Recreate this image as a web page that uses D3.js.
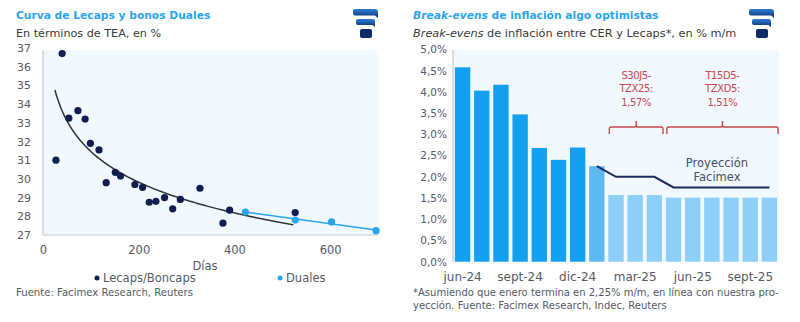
<!DOCTYPE html>
<html>
<head>
<meta charset="utf-8">
<script src="https://cdn.jsdelivr.net/npm/d3@7/dist/d3.min.js"></script>
<style>
  html, body { margin: 0; padding: 0; background: #fff; }
  svg { display: block; font-family: "DejaVu Sans", sans-serif; }
</style>
</head>
<body>
<svg id="chart" width="800" height="322"></svg>
<script>
// ---- Curva de Lecaps y bonos Duales (días, TEA %) ----
const lecapsDays = [27, 40, 54, 73, 88, 99, 117, 132, 151, 162, 192, 208, 222, 236, 254, 271, 287, 328, 376, 390, 527];
const lecapsTea  = [31.0, 36.7, 33.25, 33.65, 33.2, 31.9, 31.55, 29.8, 30.35, 30.15, 29.7, 29.55, 28.75, 28.8, 29.0, 28.4, 28.9, 29.5, 27.63, 28.33, 28.2];
const dualesDays = [423, 527, 603, 696];
const dualesTea  = [28.23, 27.8, 27.7, 27.23];
const leftYTicks = [27, 28, 29, 30, 31, 32, 33, 34, 35, 36, 37];
const leftXTicks = [0, 200, 400, 600];
// Logarithmic trend drawn over the Lecaps/Boncaps curve
const trendStart = 25, trendEnd = 523;
const trendA = 42.38, trendB = 2.37;

// ---- Break-evens de inflación (% m/m) ----
const months = ["jun-24","jul-24","ago-24","sept-24","oct-24","nov-24","dic-24","ene-25","feb-25","mar-25","abr-25","may-25","jun-25","jul-25","ago-25","sept-25","oct-25"];
const breakevens = [4.58, 4.03, 4.17, 3.47, 2.68, 2.40, 2.69, 2.25, 1.57, 1.57, 1.57, 1.51, 1.51, 1.51, 1.51, 1.51, 1.51];
const barKind = ["obs","obs","obs","obs","obs","obs","obs","est","be","be","be","be","be","be","be","be","be"];
const projMonths = ["ene-25","feb-25","mar-25","abr-25","may-25","jun-25","jul-25","ago-25","sept-25","oct-25"];
const projValues = [2.25, 2.0, 2.0, 2.0, 1.75, 1.75, 1.75, 1.75, 1.75, 1.75];
const rightXTicks = ["jun-24","sept-24","dic-24","mar-25","jun-25","sept-25"];
const rightYTicks = [0, 0.5, 1, 1.5, 2, 2.5, 3, 3.5, 4, 4.5, 5];
const brackets = [
  { from: "feb-25", to: "abr-25", lines: ["S30J5-", "TZX25:", "1,57%"] },
  { from: "may-25", to: "oct-25", lines: ["T15D5-", "TZXD5:", "1,51%"] }
];

const svg = d3.select("#chart");
const navy = "#0f1d4f";
const lightBlue = "#2aa6ee";
const gray = "#555a66";
const panelBg = "#f1f8fe";
const fmtPct = v => d3.format(".1f")(v).replace(".", ",") + "%";

// Company mark: three stacked rounded tabs
function logo(x, y) {
  const g = svg.append("g").attr("transform", `translate(${x},${y})`);
  const grad = svg.append("defs").append("linearGradient")
    .attr("id", "lg" + x).attr("x1", 0).attr("y1", 0).attr("x2", 0).attr("y2", 1);
  grad.append("stop").attr("offset", 0).attr("stop-color", "#2f7fd6");
  grad.append("stop").attr("offset", 1).attr("stop-color", "#0d2d6e");
  const f = `url(#lg${x})`;
  g.append("path").attr("fill", f)
    .attr("d", "M2,1 H22 Q25,1 25,4 V10 L22,7.5 H2 Q0,7.5 0,5.5 V3 Q0,1 2,1 Z");
  g.append("path").attr("fill", f)
    .attr("d", "M5,11 H20 Q22,11 22,13 V19 L19.5,17 H5 Q3,17 3,15 V13 Q3,11 5,11 Z");
  g.append("path").attr("fill", "#0d2a66")
    .attr("d", "M9,21 H17 Q19,21 19,23 V28 Q19,30 17,30 H9 Q7,30 7,28 V23 Q7,21 9,21 Z");
}

// ================= Left panel =================
{
  const x = d3.scaleLinear().domain([0, 700]).range([43, 378]);
  const y = d3.scaleLinear().domain([27, 37]).range([235, 48]);

  svg.append("text").attr("x", 16).attr("y", 19)
    .attr("font-size", 10.7).attr("font-weight", 700).attr("fill", lightBlue)
    .text("Curva de Lecaps y bonos Duales");
  svg.append("text").attr("x", 16).attr("y", 37)
    .attr("font-size", 11.2).attr("fill", "#3a3a3a")
    .text("En términos de TEA, en %");
  logo(353, 8);

  svg.append("rect").attr("x", 43).attr("y", 50).attr("width", 335).attr("height", 185).attr("fill", panelBg);

  const yAxis = svg.append("g").attr("transform", "translate(43,0)")
    .call(d3.axisLeft(y).tickValues(leftYTicks).tickSize(0).tickPadding(12));
  yAxis.select(".domain").attr("stroke", "#b9bec7").attr("d", "M0,50V235");
  yAxis.selectAll("text").attr("font-size", 11).attr("fill", gray).attr("font-family", "DejaVu Sans, sans-serif");

  const xAxis = svg.append("g").attr("transform", "translate(0,235)")
    .call(d3.axisBottom(x).tickValues(leftXTicks).tickSize(0).tickPadding(11));
  xAxis.select(".domain").attr("stroke", "#c6ccd4").attr("d", "M43,0H378");
  xAxis.selectAll("text").attr("font-size", 11.5).attr("fill", gray).attr("font-family", "DejaVu Sans, sans-serif");

  svg.append("text").attr("x", 205).attr("y", 270).attr("text-anchor", "middle")
    .attr("font-size", 11.5).attr("fill", gray).text("Días");

  // trend curves
  const trendDays = d3.range(trendStart, trendEnd + 1, 2);
  svg.append("path")
    .datum(trendDays)
    .attr("fill", "none").attr("stroke", "#333").attr("stroke-width", 1.5)
    .attr("d", d3.line().x(d => x(d)).y(d => y(trendA - trendB * Math.log(d))));

  const reg = (xs, ys) => {
    const mx = d3.mean(xs), my = d3.mean(ys);
    const b = d3.sum(xs, (v, i) => (v - mx) * (ys[i] - my)) / d3.sum(xs, v => (v - mx) ** 2);
    return [b, my - b * mx];
  };
  const [db, da] = reg(dualesDays, dualesTea);
  svg.append("line")
    .attr("x1", x(dualesDays[0])).attr("y1", y(da + db * dualesDays[0]))
    .attr("x2", x(dualesDays[dualesDays.length - 1])).attr("y2", y(da + db * dualesDays[dualesDays.length - 1]))
    .attr("stroke", lightBlue).attr("stroke-width", 1.5);

  svg.append("g").selectAll("circle").data(lecapsDays).join("circle")
    .attr("cx", d => x(d)).attr("cy", (d, i) => y(lecapsTea[i])).attr("r", 3.6).attr("fill", navy);
  svg.append("g").selectAll("circle").data(dualesDays).join("circle")
    .attr("cx", d => x(d)).attr("cy", (d, i) => y(dualesTea[i])).attr("r", 3.6).attr("fill", lightBlue);

  // legend
  svg.append("circle").attr("cx", 97).attr("cy", 278).attr("r", 2.5).attr("fill", navy);
  svg.append("text").attr("x", 103).attr("y", 282).attr("font-size", 11.5).attr("fill", gray).text("Lecaps/Boncaps");
  svg.append("circle").attr("cx", 280).attr("cy", 278).attr("r", 2.5).attr("fill", lightBlue);
  svg.append("text").attr("x", 286).attr("y", 282).attr("font-size", 11.5).attr("fill", gray).text("Duales");

  svg.append("text").attr("x", 16).attr("y", 296).attr("font-size", 10.1).attr("fill", gray)
    .text("Fuente: Facimex Research, Reuters");
}

// ================= Right panel =================
{
  const x = d3.scaleBand().domain(months).range([453, 779]).paddingInner(0.2).paddingOuter(0.1);
  const y = d3.scaleLinear().domain([0, 5]).range([261.7, 49.5]);

  const t = svg.append("text").attr("x", 413).attr("y", 19)
    .attr("font-size", 10.7).attr("font-weight", 700).attr("fill", lightBlue);
  t.append("tspan").attr("font-style", "italic").text("Break-evens");
  t.append("tspan").text(" de inflación algo optimistas");
  const s = svg.append("text").attr("x", 413).attr("y", 37)
    .attr("font-size", 11.3).attr("fill", "#3a3a3a");
  s.append("tspan").attr("font-style", "italic").text("Break-evens");
  s.append("tspan").text(" de inflación entre CER y Lecaps*, en % m/m");
  logo(749, 8);

  svg.append("rect").attr("x", 453).attr("y", 50).attr("width", 326).attr("height", 212).attr("fill", panelBg);

  const color = { obs: "#13a0f1", est: "#5cb9f2", be: "#8dcff8" };
  svg.append("g").selectAll("rect").data(months).join("rect")
    .attr("x", d => x(d)).attr("width", x.bandwidth())
    .attr("y", (d, i) => y(breakevens[i])).attr("height", (d, i) => y(0) - y(breakevens[i]))
    .attr("fill", (d, i) => color[barKind[i]]);

  const yAxis = svg.append("g").attr("transform", "translate(453,0)")
    .call(d3.axisLeft(y).tickValues(rightYTicks).tickFormat(fmtPct).tickSize(0).tickPadding(6));
  yAxis.select(".domain").attr("stroke", "#b9bec7").attr("d", "M0,50V262");
  yAxis.selectAll("text").attr("font-size", 10.5).attr("fill", gray).attr("font-family", "DejaVu Sans, sans-serif");

  const xAxis = svg.append("g").attr("transform", "translate(0,262)")
    .call(d3.axisBottom(x).tickValues(rightXTicks).tickSize(0).tickPadding(10));
  xAxis.select(".domain").remove();
  xAxis.selectAll("text").attr("font-size", 12).attr("fill", gray).attr("font-family", "DejaVu Sans, sans-serif");

  // projection line
  const cx = m => x(m) + x.bandwidth() / 2;
  svg.append("path").datum(projMonths)
    .attr("fill", "none").attr("stroke", "#1b2a5c").attr("stroke-width", 2)
    .attr("d", d3.line().x(d => cx(d)).y((d, i) => y(projValues[i])));
  svg.append("text").attr("x", 717).attr("y", 167).attr("text-anchor", "middle")
    .attr("font-size", 11.5).attr("fill", "#4a4f5c").text("Proyección");
  svg.append("text").attr("x", 717).attr("y", 181).attr("text-anchor", "middle")
    .attr("font-size", 11.5).attr("fill", "#4a4f5c").text("Facimex");

  // brackets with break-even labels
  const red = "#c9484a";
  brackets.forEach(b => {
    const x0 = x(b.from) + 1, x1 = x(b.to) + x.bandwidth() + 1;
    const mid = (x0 + x1) / 2;
    const top = 127, foot = 134;
    svg.append("path").attr("fill", "none").attr("stroke", red).attr("stroke-width", 1.4)
      .attr("d", `M${x0},${foot} V${top + 2} Q${x0},${top} ${x0 + 2},${top} H${mid - 2} Q${mid},${top} ${mid},${top - 2} V${top - 6}
                  M${mid},${top - 2} Q${mid},${top} ${mid + 2},${top} H${x1 - 2} Q${x1},${top} ${x1},${top + 2} V${foot}`);
    b.lines.forEach((l, i) => {
      svg.append("text").attr("x", mid).attr("y", 79 + i * 13.3).attr("text-anchor", "middle")
        .attr("font-size", 10).attr("fill", red).attr("letter-spacing", -0.4).text(l);
    });
  });

  svg.append("text").attr("x", 413).attr("y", 296).attr("font-size", 10).attr("fill", gray)
    .text("*Asumiendo que enero termina en 2,25% m/m, en línea con nuestra pro-");
  svg.append("text").attr("x", 413).attr("y", 309).attr("font-size", 10).attr("fill", gray)
    .text("yección. Fuente: Facimex Research, Indec, Reuters");
}
</script>
</body>
</html>
